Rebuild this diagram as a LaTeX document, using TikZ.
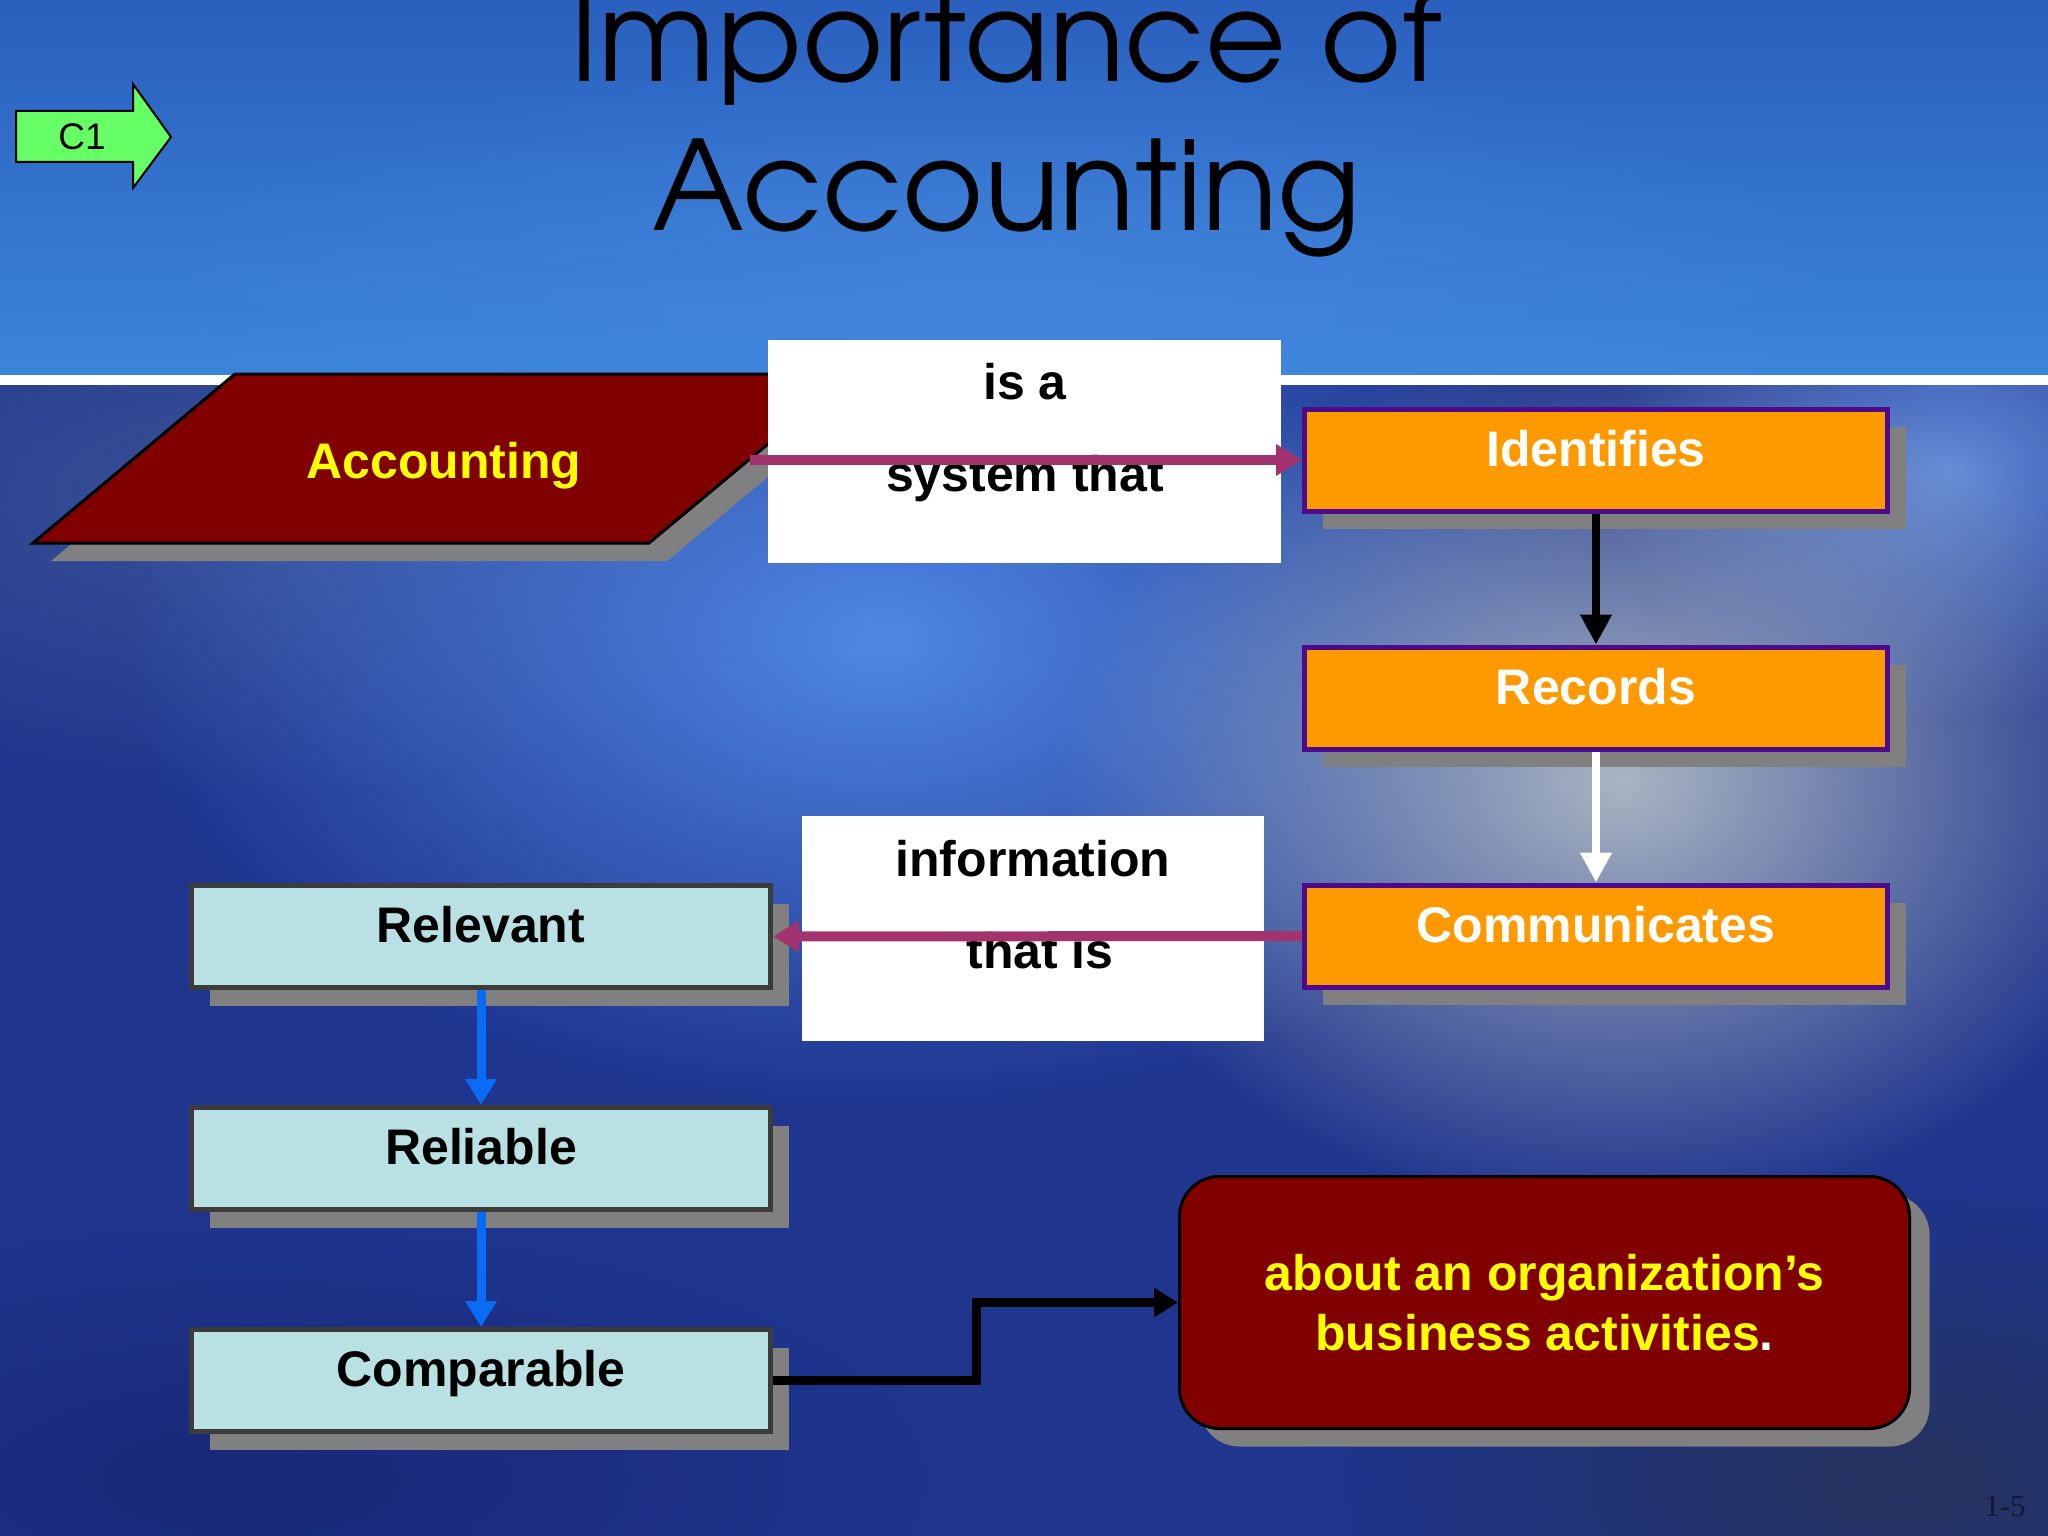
\documentclass[tikz,border=0pt]{standalone}
\usepackage{fontspec}
\usepackage{graphicx}
\setmainfont{Liberation Sans}
\newfontfamily\titlefont{TeX Gyre Adventor}
\newfontfamily\seriffont{Liberation Serif}
\usetikzlibrary{arrows.meta,fadings,shadows,calc}
\tikzfading[name=glowfade, inner color=transparent!0, outer color=transparent!100]
\definecolor{orng}{HTML}{FF9900}
\definecolor{purp}{HTML}{4E0A8C}
\definecolor{dred}{HTML}{800000}
\definecolor{lblue}{HTML}{B9E1E4}
\definecolor{bordg}{HTML}{3C3C3C}
\definecolor{shad}{HTML}{808080}
\definecolor{mag}{HTML}{A3336F}
\definecolor{arrblue}{HTML}{0A6CF5}
\definecolor{cgreen}{HTML}{66FF66}
\definecolor{yel}{HTML}{FFFF00}
\definecolor{topA}{HTML}{2A5FBE}
\definecolor{topB}{HTML}{3B86DA}
\definecolor{lowbase}{HTML}{1F358E}
\definecolor{glowblue}{HTML}{5088E6}
\definecolor{glowgrey}{HTML}{A9B5C2}
\definecolor{slateblue}{HTML}{3E5598}
\definecolor{darknavy}{HTML}{15236C}
\definecolor{darkslate}{HTML}{283250}
\tikzset{
  boxshadow/.style={drop shadow={shadow xshift=18pt, shadow yshift=-18pt, fill=shad, opacity=1}},
  obox/.style={rectangle, fill=orng, draw=purp, line width=5pt, minimum width=583pt, minimum height=102pt, inner sep=0pt,
     boxshadow, text=white, font=\bfseries\fontsize{50}{60}\selectfont, text height=36pt, text depth=24pt},
  bbox/.style={rectangle, fill=lblue, draw=bordg, line width=5pt, minimum width=579pt, minimum height=102pt, inner sep=0pt,
     boxshadow, text=black, font=\bfseries\fontsize{50}{60}\selectfont, text height=36pt, text depth=24pt},
  wbox/.style={rectangle, fill=white, draw=none, inner sep=0pt},
  wtext/.style={font=\bfseries\fontsize{50}{60}\selectfont, text=black, anchor=base, inner sep=0pt},
  magarrow/.style={draw=mag, line width=10pt, -{Triangle[length=26pt,width=30pt]}},
  blkarrow/.style={draw=black, line width=8pt, -{Triangle[length=30pt,width=30pt]}},
  bluearrow/.style={draw=arrblue, line width=9pt, -{Triangle[length=26pt,width=30pt]}},
}
\begin{document}
\begin{tikzpicture}[x=1pt,y=-1pt]
\useasboundingbox (0,0) rectangle (2048,1536);
\begin{scope}
\clip (0,0) rectangle (2048,1536);
% ---------- background ----------
\shade[top color=topA, bottom color=topB] (0,0) rectangle (2048,380);
\begin{scope}
\clip (0,0) rectangle (2048,380);
\fill[fill=glowblue!60!topB, path fading=glowfade, fill opacity=0.6] (1000,300) ellipse [x radius=900pt, y radius=260pt];
\end{scope}
\fill[lowbase] (0,380) rectangle (2048,1536);
\begin{scope}
\clip (0,380) rectangle (2048,1536);
\fill[slateblue, path fading=glowfade, fill opacity=0.9] (250,500) ellipse [x radius=650pt, y radius=300pt];
\fill[glowblue, path fading=glowfade, fill opacity=1] (880,640) ellipse [x radius=760pt, y radius=470pt];
\fill[glowblue!80!white, path fading=glowfade, fill opacity=0.8] (1950,470) ellipse [x radius=350pt, y radius=250pt];
\fill[glowgrey, path fading=glowfade, fill opacity=1] (1620,780) ellipse [x radius=560pt, y radius=440pt];
\fill[darknavy, path fading=glowfade, fill opacity=0.7] (250,1480) ellipse [x radius=700pt, y radius=260pt];
\fill[darkslate, path fading=glowfade, fill opacity=0.8] (1900,1480) ellipse [x radius=600pt, y radius=300pt];
\end{scope}
\fill[white] (0,375) rectangle (2048,385);
\end{scope}

% ---------- title ----------
\node[anchor=base, inner sep=0pt, font=\titlefont, text=black] (t1) at (1006,82) {\resizebox{870pt}{!}{Importance of}};
\node[anchor=base, inner sep=0pt, font=\titlefont, text=black] (t2) at (1007,230) {\resizebox{708pt}{!}{Accounting}};

% ---------- C1 arrow ----------
\draw[fill=cgreen, draw=black, line width=2pt, line join=miter]
  (16,111) -- (133,111) -- (133,84) -- (171,137) -- (133,188) -- (133,162) -- (16,162) -- cycle;
\node[font=\fontsize{37}{40}\selectfont, text=black, inner sep=0pt] (c1) at (82,137) {C1};

% ---------- Accounting parallelogram ----------
\fill[shad] (253,392) -- (870,392) -- (667,561) -- (51,561) -- cycle;
\draw[fill=dred, draw=black, line width=3pt, line join=miter] (235,374) -- (852,374) -- (649,543) -- (33,543) -- cycle;
\node[font=\bfseries\fontsize{50}{60}\selectfont, text=yel, inner sep=0pt] (acc) at (444,466) {Accounting};
\coordinate (accR) at (750,460);

% ---------- white label boxes ----------
\node[wbox, minimum width=513pt, minimum height=223pt] (sys) at (1024.5,451.5) {};
\node[wtext] (sys1) at (1025,399) {is a};
\node[wtext] (sys2) at (1025,491) {system that};
\node[wbox, minimum width=462pt, minimum height=225pt] (inf) at (1033,928.5) {};
\node[wtext] (inf1) at (1033,876) {information};
\node[wtext] (inf2) at (1040,968) {that is};

% ---------- orange boxes ----------
\node[obox] (idf) at (1596,460) {Identifies};
\node[obox] (rec) at (1596,698) {Records};
\node[obox] (com) at (1596,936) {Communicates};

% ---------- light blue boxes ----------
\node[bbox] (rel) at (481,936.5) {Relevant};
\node[bbox] (rlb) at (481,1158.5) {Reliable};
\node[bbox] (cmp) at (481,1380.5) {Comparable};

% ---------- dark red result box ----------
\node[rectangle, rounded corners=40pt, fill=dred, draw=black, line width=3pt,
      minimum width=730pt, minimum height=252pt,
      drop shadow={shadow xshift=20pt, shadow yshift=-18pt, fill=shad, opacity=1},
      text=yel, align=center, font=\bfseries\fontsize{50}{60}\selectfont]
  (org) at (1544.5,1302.5) {about an organization’s\\business activities\textcolor{white}{.}};

% ---------- connectors ----------
\draw[magarrow] (accR) -- (idf.west);
\draw[blkarrow] (idf.south) -- (rec.north);
\draw[blkarrow, draw=white] (rec.south) -- (com.north);
\draw[magarrow] (com.west) -- (rel.east);
\draw[bluearrow] (rel.south) -- (rlb.north);
\draw[bluearrow] (rlb.south) -- (cmp.north);
\draw[draw=black, line width=9pt, line join=miter, -{Triangle[length=24pt,width=28pt]}]
  (cmp.east) -- ++(203,0) |- (org.west);

% ---------- page number ----------
\node[font=\seriffont\fontsize{31}{34}\selectfont, text={rgb,255:red,20;green,24;blue,48}, inner sep=0pt] (pg) at (2005,1506) {1-5};
\end{tikzpicture}
\end{document}
